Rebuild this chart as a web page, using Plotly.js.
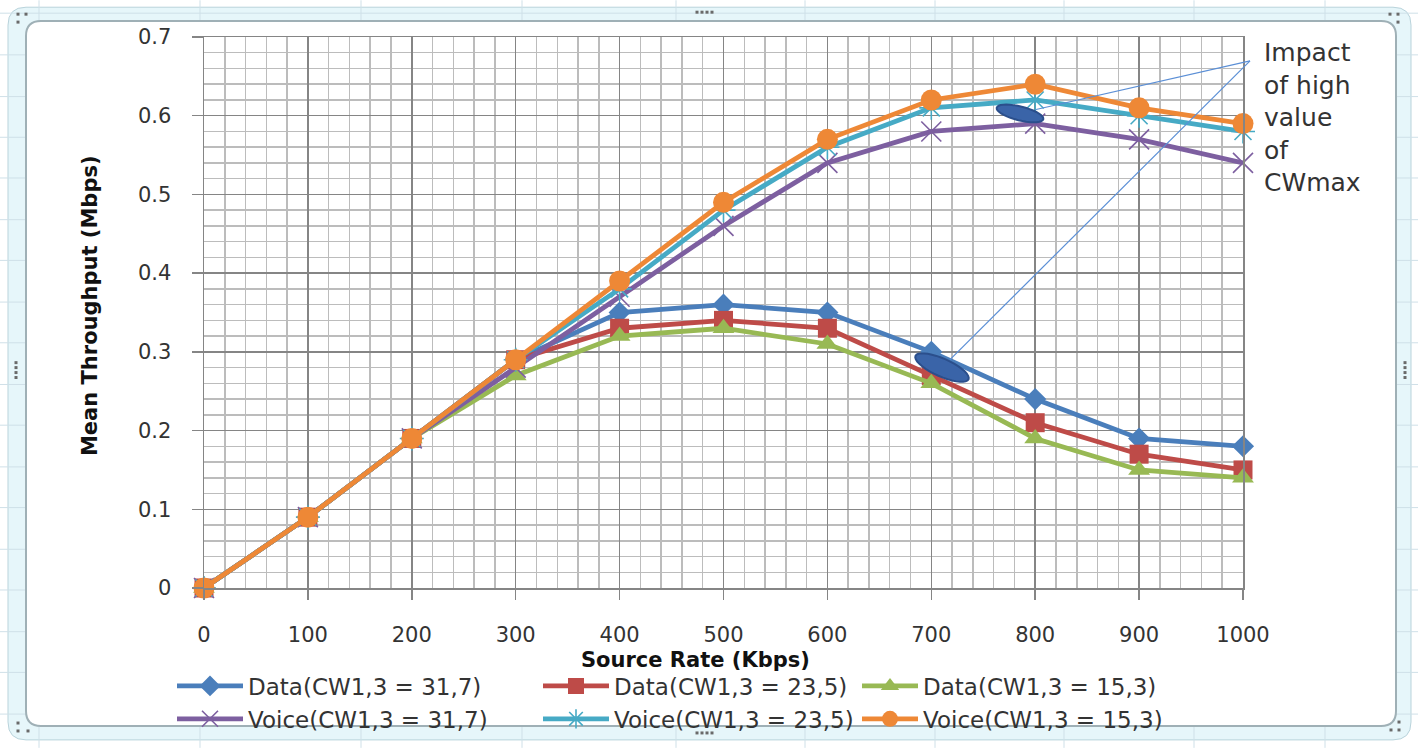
<!DOCTYPE html>
<html>
<head>
<meta charset="utf-8">
<script src="https://cdn.plot.ly/plotly-3.0.1.min.js"></script>
<style>
html,body{margin:0;padding:0;background:#fff;}
#chart{width:1418px;height:753px;}
</style>
</head>
<body>
<div id="chart"></div>
<script>
// ---- data ----
var sourceRate = [0, 100, 200, 300, 400, 500, 600, 700, 800, 900, 1000];
var data31_7  = [0, 0.09, 0.19, 0.29, 0.35, 0.36, 0.35, 0.30, 0.24, 0.19, 0.18];
var data23_5  = [0, 0.09, 0.19, 0.29, 0.33, 0.34, 0.33, 0.27, 0.21, 0.17, 0.15];
var data15_3  = [0, 0.09, 0.19, 0.27, 0.32, 0.33, 0.31, 0.26, 0.19, 0.15, 0.14];
var voice31_7 = [0, 0.09, 0.19, 0.28, 0.37, 0.46, 0.54, 0.58, 0.59, 0.57, 0.54];
var voice23_5 = [0, 0.09, 0.19, 0.29, 0.38, 0.48, 0.56, 0.61, 0.62, 0.60, 0.58];
var voice15_3 = [0, 0.09, 0.19, 0.29, 0.39, 0.49, 0.57, 0.62, 0.64, 0.61, 0.59];
var seriesNames = ['Data(CW1,3 = 31,7)', 'Data(CW1,3 = 23,5)', 'Data(CW1,3 = 15,3)',
                   'Voice(CW1,3 = 31,7)', 'Voice(CW1,3 = 23,5)', 'Voice(CW1,3 = 15,3)'];
var xTickVals = [0, 100, 200, 300, 400, 500, 600, 700, 800, 900, 1000];
var yTickVals = [0, 0.1, 0.2, 0.3, 0.4, 0.5, 0.6, 0.7];
var yTickText = ['0', '0.1', '0.2', '0.3', '0.4', '0.5', '0.6', '0.7'];
var xTitle = 'Source Rate (Kbps)';
var yTitle = 'Mean Throughput (Mbps)';
var noteText = 'Impact<br>of high<br>value<br>of<br>CWmax';

// ---- layout geometry (pixels) ----
var W = 1418, H = 753;
var M = {l: 204, r: 175, t: 37, b: 161};
var PW = W - M.l - M.r, PH = H - M.t - M.b;
function px(x) { return (x - M.l) / PW; }
function py(y) { return (M.t + PH - y) / PH; }

function roundRect(x0, y0, x1, y1, r) {
  return 'M' + px(x0 + r) + ',' + py(y0) +
    ' L' + px(x1 - r) + ',' + py(y0) +
    ' Q' + px(x1) + ',' + py(y0) + ' ' + px(x1) + ',' + py(y0 + r) +
    ' L' + px(x1) + ',' + py(y1 - r) +
    ' Q' + px(x1) + ',' + py(y1) + ' ' + px(x1 - r) + ',' + py(y1) +
    ' L' + px(x0 + r) + ',' + py(y1) +
    ' Q' + px(x0) + ',' + py(y1) + ' ' + px(x0) + ',' + py(y1 - r) +
    ' L' + px(x0) + ',' + py(y0 + r) +
    ' Q' + px(x0) + ',' + py(y0) + ' ' + px(x0 + r) + ',' + py(y0) + ' Z';
}
function ellipsePath(cx, cy, a, b, angDeg) {
  var t = angDeg * Math.PI / 180, s = '';
  for (var i = 0; i <= 36; i++) {
    var u = i / 36 * 2 * Math.PI;
    var ex = a * Math.cos(u), ey = b * Math.sin(u);
    var xx = cx + ex * Math.cos(t) - ey * Math.sin(t);
    var yy = cy + ex * Math.sin(t) + ey * Math.cos(t);
    s += (i === 0 ? 'M' : ' L') + px(xx) + ',' + py(yy);
  }
  return s + ' Z';
}

var shapes = [];
// outer frame band
shapes.push({type: 'path', xref: 'paper', yref: 'paper', layer: 'below',
  path: roundRect(8, 7, 1411, 745, 18), fillcolor: '#e6f6fa', line: {color: '#b9d3db', width: 1}});
// spreadsheet cell lines
var sheetCols = [39, 200, 361, 522, 676, 805, 935, 1064, 1194, 1325];
var sheetRows = [13, 55, 97, 138, 179, 221, 262, 304, 345, 387, 428, 470, 511, 553, 594, 636, 677, 719];
sheetCols.forEach(function (c) {
  shapes.push({type: 'line', xref: 'paper', yref: 'paper', layer: 'below',
    x0: px(c), x1: px(c), y0: py(0), y1: py(H), line: {color: '#cfe0e8', width: 1}});
});
sheetRows.forEach(function (r) {
  shapes.push({type: 'line', xref: 'paper', yref: 'paper', layer: 'below',
    x0: px(0), x1: px(W), y0: py(r), y1: py(r), line: {color: '#cfe0e8', width: 1}});
});
// inner white chart area
shapes.push({type: 'path', xref: 'paper', yref: 'paper', layer: 'below',
  path: roundRect(26, 21, 1396, 731, 15), fillcolor: '#ffffff', line: {color: '#9fb0b6', width: 2}});
// small handle squares
var handles = [[18, 14], [26, 14], [18, 22], [1390, 14], [1398, 14], [1398, 22],
               [18, 728], [18, 736], [28, 736], [1391, 735], [1399, 735], [1399, 727],
               [697, 12], [702, 12], [707, 12], [712, 12], [697, 738], [702, 738], [707, 738], [712, 738],
               [16, 365], [16, 370], [16, 375], [16, 380], [1405, 365], [1405, 370], [1405, 375], [1405, 380]];
handles.forEach(function (h) {
  shapes.push({type: 'rect', xref: 'paper', yref: 'paper', layer: 'below',
    x0: px(h[0] - 1.5), x1: px(h[0] + 1.5), y0: py(h[1] - 1.5), y1: py(h[1] + 1.5),
    fillcolor: '#6a6a6a', line: {width: 0}});
});
// callout lines and ellipses
shapes.push({type: 'line', xref: 'paper', yref: 'paper', layer: 'above',
  x0: px(1250), y0: py(61), x1: px(1036), y1: py(110), line: {color: '#5b8fd6', width: 1.2}});
shapes.push({type: 'line', xref: 'paper', yref: 'paper', layer: 'above',
  x0: px(1250), y0: py(61), x1: px(950), y1: py(362), line: {color: '#5b8fd6', width: 1.2}});
shapes.push({type: 'path', xref: 'paper', yref: 'paper', layer: 'above',
  path: ellipsePath(1020, 114, 24, 7, 14), fillcolor: '#3a64a8', line: {color: '#2b4f8c', width: 2}});
shapes.push({type: 'path', xref: 'paper', yref: 'paper', layer: 'above',
  path: ellipsePath(942, 370, 29, 9, 24), fillcolor: '#3a64a8', line: {color: '#2b4f8c', width: 2}});

var colors = ['#4a7ebb', '#be4b48', '#98b954', '#7d5fa0', '#46aac5', '#ee8836'];
var symbols = ['diamond', 'square', 'triangle-up', 'x-thin-open', 'asterisk-open', 'circle'];
var msizes = [17, 19, 19, 20, 20, 21];
var legendIds = ['legend', 'legend2', 'legend3', 'legend', 'legend2', 'legend3'];
var ys = [data31_7, data23_5, data15_3, voice31_7, voice23_5, voice15_3];

var traces = ys.map(function (y, i) {
  var open = (i === 3 || i === 4);
  return {
    type: 'scatter', mode: 'lines+markers', name: seriesNames[i], legend: legendIds[i],
    x: sourceRate, y: y,
    line: {color: colors[i], width: 4.8},
    marker: {symbol: symbols[i], size: msizes[i], color: colors[i],
             line: {color: colors[i], width: open ? 1.6 : 0}},
    cliponaxis: false
  };
});

var font = 'DejaVu Sans, sans-serif';
function legendAt(xPix, itemw) {
  return {
    orientation: 'v', x: px(xPix), xanchor: 'left', y: py(669), yanchor: 'top',
    itemwidth: itemw, bgcolor: 'rgba(0,0,0,0)', borderwidth: 0,
    font: {family: font, size: 23, color: '#333333'}, tracegroupgap: 0
  };
}
var layout = {
  width: W, height: H,
  margin: M,
  paper_bgcolor: '#ffffff',
  plot_bgcolor: 'rgba(0,0,0,0)',
  showlegend: true,
  font: {family: font, color: '#333333', size: 21},
  xaxis: {
    range: [0, 1000], tickvals: xTickVals, ticks: 'outside', ticklen: 10, tickwidth: 1.5,
    tickcolor: '#858585', showline: true, linecolor: '#858585', linewidth: 1.5, mirror: true,
    showgrid: true, gridcolor: '#858585', gridwidth: 1.5, zeroline: false,
    minor: {dtick: 20, showgrid: true, gridcolor: '#bcbcbc', gridwidth: 1.5},
    tickfont: {family: font, size: 21, color: '#333333'},
    ticklabelstandoff: 17
  },
  yaxis: {
    range: [0, 0.7], tickvals: yTickVals, ticktext: yTickText, ticks: 'outside', ticklen: 11, tickwidth: 1.5,
    tickcolor: '#858585', showline: true, linecolor: '#858585', linewidth: 1.5, mirror: true,
    showgrid: true, gridcolor: '#858585', gridwidth: 1.5, zeroline: false,
    minor: {dtick: 0.02, showgrid: true, gridcolor: '#bcbcbc', gridwidth: 1.5},
    tickfont: {family: font, size: 21, color: '#333333'},
    ticklabelstandoff: 16
  },
  legend: legendAt(172, 66),
  legend2: legendAt(538, 66),
  legend3: legendAt(857, 56),
  annotations: [{
    xref: 'paper', yref: 'paper', x: px(1262), y: py(118), xanchor: 'left', yanchor: 'middle',
    text: noteText, showarrow: false, align: 'left',
    font: {family: font, size: 25, color: '#333333'}
  }, {
    xref: 'paper', yref: 'paper', x: px(695), y: py(665), xanchor: 'center', yanchor: 'middle',
    text: xTitle, showarrow: false,
    font: {family: font, size: 21, color: '#111111', weight: 'bold'}
  }, {
    xref: 'paper', yref: 'paper', x: px(90), y: py(308), xanchor: 'center', yanchor: 'middle',
    text: yTitle, showarrow: false, textangle: -90,
    font: {family: font, size: 21, color: '#111111', weight: 'bold'}
  }],
  shapes: shapes
};

Plotly.newPlot('chart', traces, layout, {displayModeBar: false, staticPlot: true});
</script>
</body>
</html>
